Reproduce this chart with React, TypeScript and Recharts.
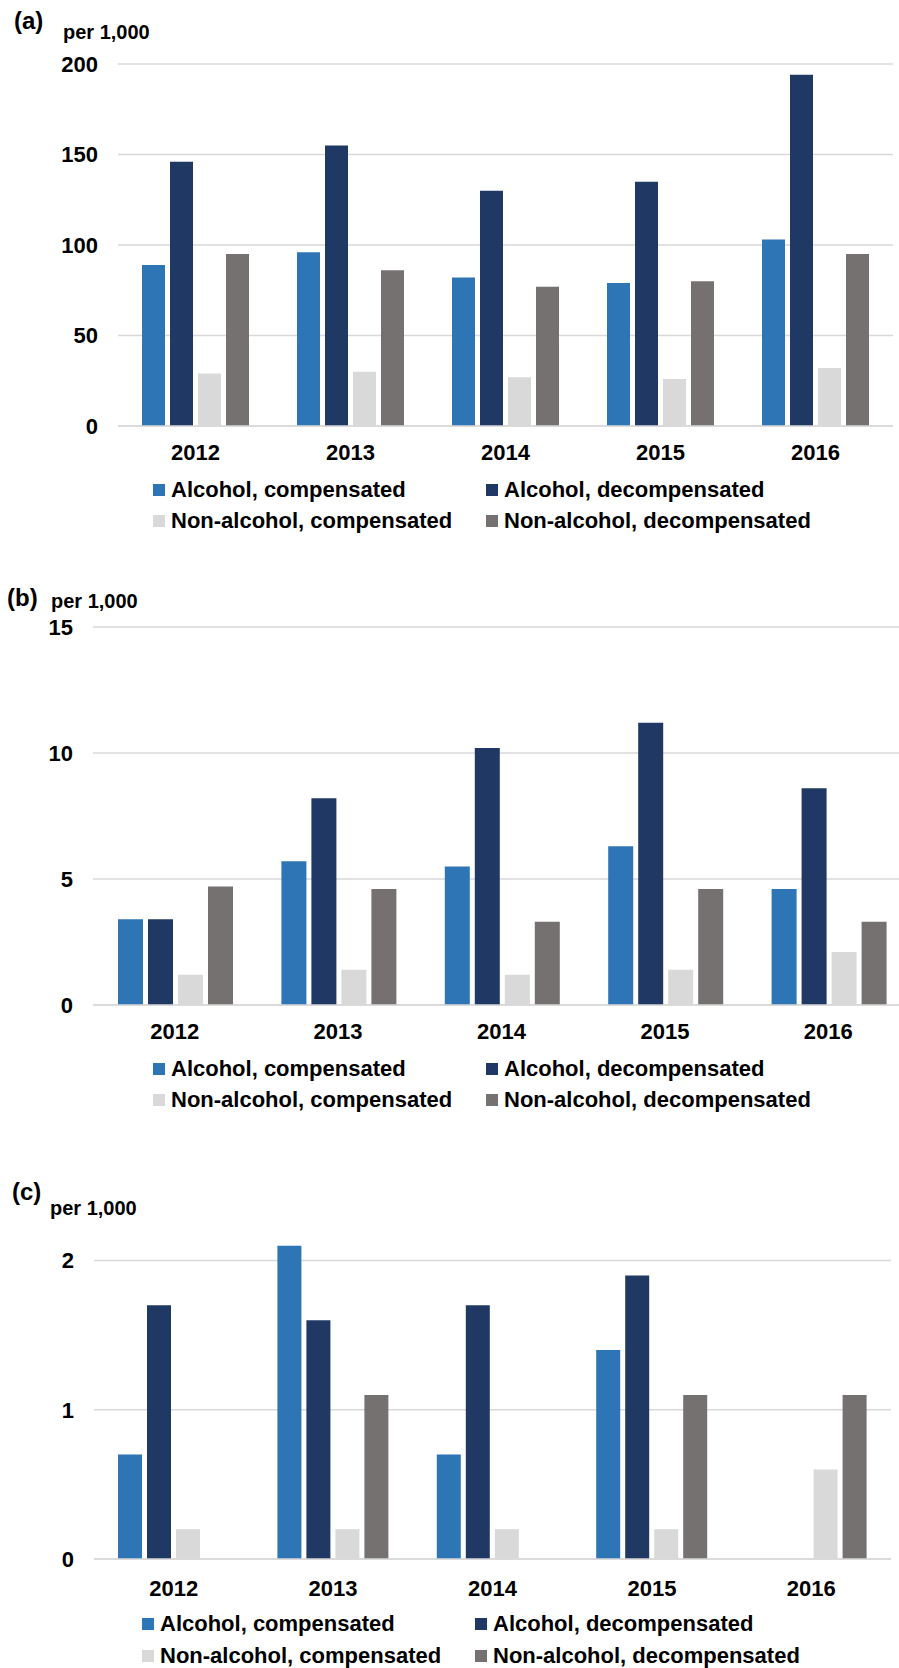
import { BarChart, Bar, XAxis, YAxis, CartesianGrid, Legend } from "recharts";

const years = ["2012", "2013", "2014", "2015", "2016"];

const seriesNames = [
    "Alcohol, compensated",
    "Alcohol, decompensated",
    "Non-alcohol, compensated",
    "Non-alcohol, decompensated",
];
const seriesColors = ["#2E75B6", "#203864", "#D9D9D9", "#767171"];

// (a)
const alcCompA = [89, 96, 82, 79, 103];
const alcDecompA = [146, 155, 130, 135, 194];
const nonCompA = [29, 30, 27, 26, 32];
const nonDecompA = [95, 86, 77, 80, 95];
const ticksA = [0, 50, 100, 150, 200];

// (b)
const alcCompB = [3.4, 5.7, 5.5, 6.3, 4.6];
const alcDecompB = [3.4, 8.2, 10.2, 11.2, 8.6];
const nonCompB = [1.2, 1.4, 1.2, 1.4, 2.1];
const nonDecompB = [4.7, 4.6, 3.3, 4.6, 3.3];
const ticksB = [0, 5, 10, 15];

// (c)
const alcCompC = [0.7, 2.1, 0.7, 1.4, 0];
const alcDecompC = [1.7, 1.6, 1.7, 1.9, 0];
const nonCompC = [0.2, 0.2, 0.2, 0.2, 0.6];
const nonDecompC = [0, 1.1, 0, 1.1, 1.1];
const ticksC = [0, 1, 2];

const FONT = "'Liberation Sans', Arial, sans-serif";

const toRows = (s0: number[], s1: number[], s2: number[], s3: number[]) =>
    years.map((year, i) => ({ year, s0: s0[i], s1: s1[i], s2: s2[i], s3: s3[i] }));

const dataA = toRows(alcCompA, alcDecompA, nonCompA, nonDecompA);
const dataB = toRows(alcCompB, alcDecompB, nonCompB, nonDecompB);
const dataC = toRows(alcCompC, alcDecompC, nonCompC, nonDecompC);

function LegendGrid(props: any) {
    const { payload, left, rowH } = props;
    return (
        <div
            style={{
                display: "grid",
                gridTemplateColumns: "333px 333px",
                paddingLeft: left,
                fontFamily: FONT,
            }}
        >
            {(payload || []).map((p: any) => (
                <div key={p.value} style={{ display: "flex", alignItems: "center", height: rowH }}>
                    <span style={{ width: 12, height: 12, background: p.color, marginRight: 6, flexShrink: 0 }} />
                    <span style={{ fontSize: 22, fontWeight: 700, color: "#000", whiteSpace: "nowrap" }}>
                        {p.value}
                    </span>
                </div>
            ))}
        </div>
    );
}

type PanelProps = {
    data: any[];
    width: number;
    height: number;
    margin: { top: number; right: number; left: number; bottom: number };
    yWidth: number;
    domain: [number, number];
    ticks: number[];
    xHeight: number;
    xTickMargin: number;
    barCategoryGap: number;
    legendLeft: number;
    legendRowH: number;
};

function Panel(p: PanelProps) {
    const tickStyle = { fill: "#000", fontSize: 22, fontWeight: 700, fontFamily: FONT };
    return (
        <BarChart
            width={p.width}
            height={p.height}
            data={p.data}
            margin={p.margin}
            barCategoryGap={p.barCategoryGap}
            barGap={5}
        >
            <CartesianGrid
                vertical={false}
                stroke="#D9D9D9"
                strokeWidth={1.5}
                syncWithTicks
                horizontalValues={p.ticks}
            />
            <XAxis
                dataKey="year"
                height={p.xHeight}
                tickLine={false}
                tickSize={6}
                tickMargin={p.xTickMargin}
                axisLine={{ stroke: "#D9D9D9", strokeWidth: 1.5 }}
                tick={tickStyle}
            />
            <YAxis
                width={p.yWidth}
                domain={p.domain}
                ticks={p.ticks}
                allowDataOverflow
                tickLine={false}
                axisLine={false}
                tickSize={6}
                tickMargin={14}
                tick={tickStyle}
            />
            <Legend
                verticalAlign="bottom"
                content={<LegendGrid left={p.legendLeft} rowH={p.legendRowH} />}
            />
            {seriesNames.map((name, i) => (
                <Bar
                    key={name}
                    dataKey={`s${i}`}
                    name={name}
                    fill={seriesColors[i]}
                    isAnimationActive={false}
                />
            ))}
        </BarChart>
    );
}

export default function App() {
    const labelStyle = { fontFamily: FONT, fontWeight: 700, fill: "#000" } as const;
    return (
        <div style={{ position: "relative", width: 899, height: 1668, overflow: "hidden", background: "#fff" }}>
            <style>{"body{margin:0}"}</style>

            <div style={{ position: "absolute", left: 0, top: 0 }}>
                <Panel
                    data={dataA}
                    width={899}
                    height={536}
                    margin={{ top: 64, right: 6, left: 0, bottom: 0 }}
                    yWidth={118}
                    domain={[0, 200]}
                    ticks={ticksA}
                    xHeight={48}
                    xTickMargin={12}
                    barCategoryGap={24}
                    legendLeft={153}
                    legendRowH={31}
                />
            </div>

            <div style={{ position: "absolute", left: 0, top: 560 }}>
                <Panel
                    data={dataB}
                    width={910}
                    height={555}
                    margin={{ top: 67, right: 0, left: 0, bottom: 0 }}
                    yWidth={93}
                    domain={[0, 15]}
                    ticks={ticksB}
                    xHeight={48}
                    xTickMargin={12}
                    barCategoryGap={25}
                    legendLeft={153}
                    legendRowH={31}
                />
            </div>

            <div style={{ position: "absolute", left: 0, top: 1150 }}>
                <Panel
                    data={dataC}
                    width={899}
                    height={522}
                    margin={{ top: 36, right: 8, left: 0, bottom: 0 }}
                    yWidth={94}
                    domain={[0, 2.5]}
                    ticks={ticksC}
                    xHeight={49}
                    xTickMargin={15}
                    barCategoryGap={24}
                    legendLeft={142}
                    legendRowH={32}
                />
            </div>

            <svg
                width={899}
                height={1668}
                style={{ position: "absolute", left: 0, top: 0, pointerEvents: "none" }}
            >
                <text x={14} y={29} fontSize={24} {...labelStyle}>(a)</text>
                <text x={63} y={39} fontSize={20} {...labelStyle}>per 1,000</text>
                <text x={7} y={606} fontSize={24} {...labelStyle}>(b)</text>
                <text x={51} y={608} fontSize={20} {...labelStyle}>per 1,000</text>
                <text x={12} y={1200} fontSize={24} {...labelStyle}>(c)</text>
                <text x={50} y={1215} fontSize={20} {...labelStyle}>per 1,000</text>
            </svg>
        </div>
    );
}
